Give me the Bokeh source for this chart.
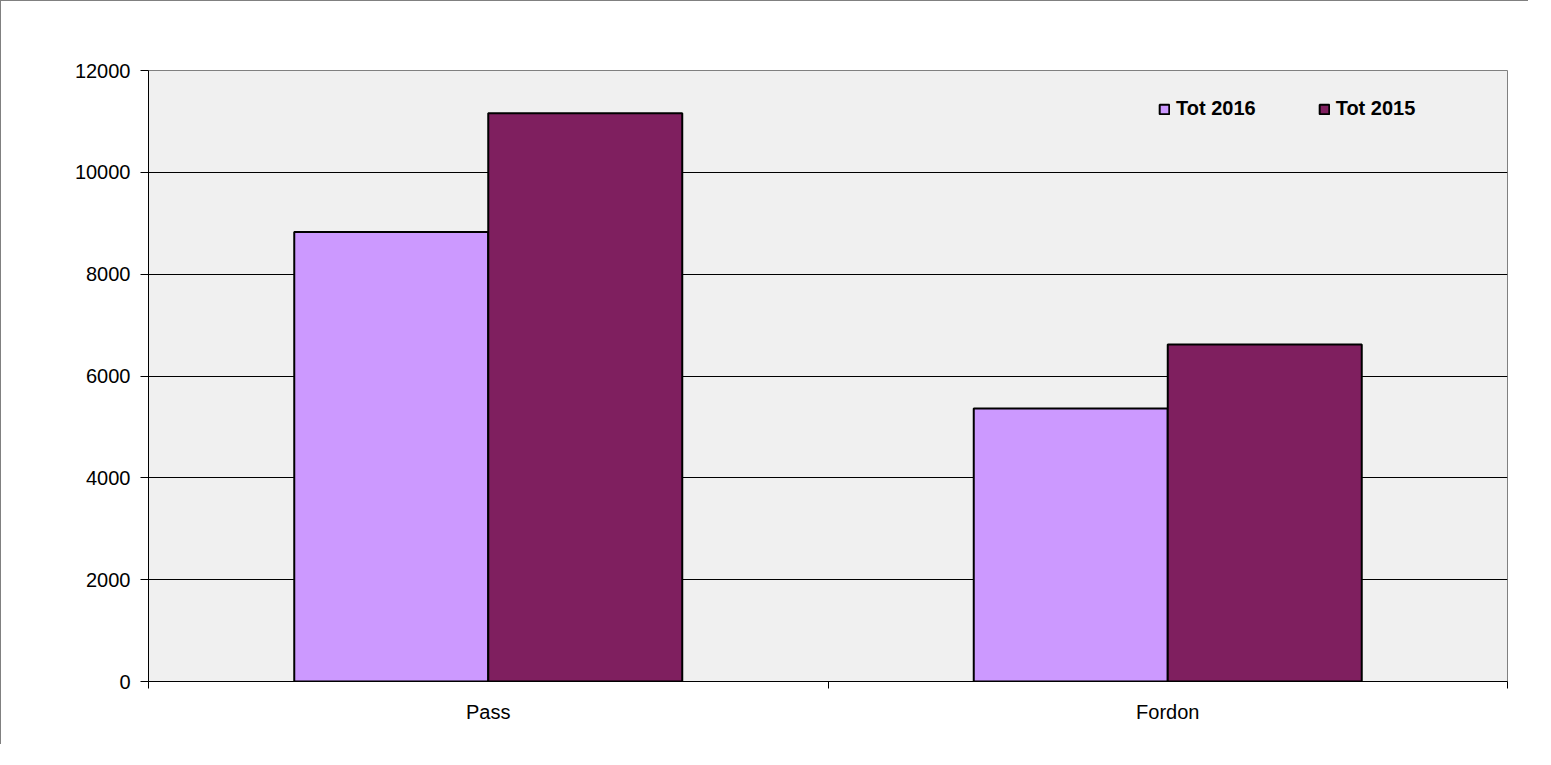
from bokeh.plotting import figure
from bokeh.models import Range1d, FixedTicker, ColumnDataSource, Legend, LegendItem
from bokeh.embed import file_html
from bokeh.resources import INLINE

categories = ["Pass", "Fordon"]
tot_2016 = [8830, 5360]
tot_2015 = [11160, 6620]
series_names = ["Tot 2016", "Tot 2015"]
y_ticks = [0, 2000, 4000, 6000, 8000, 10000, 12000]

colors = ["#CC99FF", "#7F1F5F"]
FONT = "Liberation Sans"

p = figure(width=1528, height=744, output_backend="svg", toolbar_location=None,
           x_range=Range1d(0, len(categories)), y_range=Range1d(0, 12000),
           min_border_left=147, min_border_top=69, min_border_right=22, min_border_bottom=64)
p.styles = {"border-top": "1px solid #808080", "border-left": "1px solid #808080"}
p.background_fill_color = "#F0F0F0"
p.border_fill_color = "white"
p.outline_line_color = "#808080"
p.outline_line_width = 1

bar_w = 0.2855
centers = [i + 0.5 for i in range(len(categories))]
src = ColumnDataSource(dict(
    x16=[c - bar_w / 2 for c in centers],
    x15=[c + bar_w / 2 for c in centers],
    v16=tot_2016, v15=tot_2015))

r16 = p.vbar(x="x16", top="v16", bottom=0, width=bar_w, source=src,
             fill_color=colors[0], line_color="black", line_width=2)
r15 = p.vbar(x="x15", top="v15", bottom=0, width=bar_w, source=src,
             fill_color=colors[1], line_color="black", line_width=2)

# axes
p.yaxis.ticker = FixedTicker(ticks=y_ticks)
p.yaxis.major_tick_in = 0
p.yaxis.major_tick_out = 8
p.yaxis.minor_tick_line_color = None
p.yaxis.axis_line_color = "black"
p.yaxis.major_tick_line_color = "black"
p.yaxis.major_label_text_font = FONT
p.yaxis.major_label_text_font_size = "20px"
p.yaxis.major_label_text_color = "black"
p.yaxis.major_label_standoff = 10

p.xaxis.ticker = FixedTicker(ticks=centers, minor_ticks=list(range(len(categories) + 1)))
p.xaxis.major_label_overrides = {c: name for c, name in zip(centers, categories)}
p.xaxis.major_tick_in = 0
p.xaxis.major_tick_out = 0
p.xaxis.minor_tick_in = 0
p.xaxis.minor_tick_out = 7
p.xaxis.minor_tick_line_color = "black"
p.xaxis.axis_line_color = "black"
p.xaxis.major_label_text_font = FONT
p.xaxis.major_label_text_font_size = "20px"
p.xaxis.major_label_text_color = "black"
p.xaxis.major_label_standoff = 12

p.xgrid.grid_line_color = None
p.ygrid.ticker = FixedTicker(ticks=y_ticks[1:-1])
p.ygrid.grid_line_color = "black"
p.ygrid.grid_line_width = 1

legend = Legend(items=[LegendItem(label=series_names[0], renderers=[r16]),
                       LegendItem(label=series_names[1], renderers=[r15])],
                orientation="horizontal", location=(1010, 561),
                padding=0, margin=0, spacing=62,
                glyph_width=12, glyph_height=12, label_standoff=6,
                label_text_font=FONT, label_text_font_size="20px",
                label_text_font_style="bold", label_text_color="black",
                background_fill_alpha=0, border_line_color=None)
p.add_layout(legend)

open("out.html", "w").write(file_html(p, INLINE))
